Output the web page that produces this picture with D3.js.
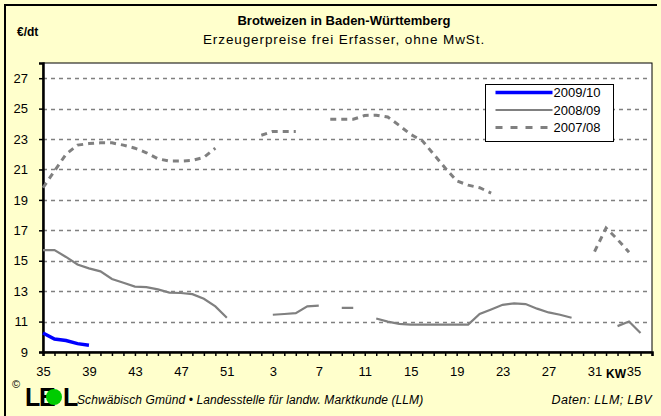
<!DOCTYPE html>
<html>
<head>
<meta charset="utf-8">
<script src="https://cdn.jsdelivr.net/npm/d3@7"></script>
<style>
  body { margin: 0; background: #FFFFCC; }
  svg { display: block; font-family: Arial, "Liberation Sans", sans-serif; }
</style>
</head>
<body>
<div class="chart"></div>
<script>
// calendar weeks (KW) on the x axis, season runs from week 35 to week 35
const weeks = [35, 36, 37, 38, 39, 40, 41, 42, 43, 44, 45, 46, 47, 48, 49, 50, 51, 52,
  1, 2, 3, 4, 5, 6, 7, 8, 9, 10, 11, 12, 13, 14, 15, 16, 17, 18, 19, 20, 21, 22, 23, 24,
  25, 26, 27, 28, 29, 30, 31, 32, 33, 34, 35, 36];
const yTicks = [9, 11, 13, 15, 17, 19, 21, 23, 25, 27];

// €/dt, one value per week, null = no quotation
const price0910 = [10.25, 9.85, 9.75, 9.55, 9.45];
const price0809 = [15.7, 15.7, 15.25, 14.75, 14.5, 14.3, 13.8, 13.55, 13.3, 13.27, 13.12, 12.9,
  12.88, 12.8, 12.5, 12.0, 11.25, null, null, null, 11.45, 11.5, 11.55, 12.0, 12.05, null,
  11.9, 11.9, null, 11.2, 11.0, 10.85, 10.8, 10.8, 10.8, 10.8, 10.8, 10.8, 11.5, 11.8, 12.1,
  12.2, 12.15, 11.85, 11.6, 11.45, 11.25, null, null, null, 10.7, 11.0, 10.25, null];
const price0708 = [19.8, 20.9, 22.0, 22.6, 22.7, 22.75, 22.75, 22.6, 22.4, 22.1, 21.7, 21.55,
  21.55, 21.6, 21.8, 22.4, null, null, null, 23.25, 23.5, 23.5, 23.5, null, null, 24.3, 24.3,
  24.3, 24.55, 24.57, 24.45, 23.9, 23.3, 22.9, 22.0, 21.1, 20.25, 19.97, 19.8, 19.45, null,
  null, null, null, null, null, null, null, 15.6, 17.15, 16.4, 15.55, null, null];

const seasons = ['2009/10', '2008/09', '2007/08'];

const width = 661, height = 416;
const plot = { left: 43, right: 652, top: 63, bottom: 352 };

const svg = d3.select('.chart').append('svg')
  .attr('width', width)
  .attr('height', height);

// yellow chart background with the black frame at top and left
svg.append('rect').attr('width', width).attr('height', height).attr('fill', '#FFFFCC');
svg.append('path')
  .attr('d', 'M5,416V5H657')
  .attr('fill', 'none').attr('stroke', '#000').attr('stroke-width', 2);

const x = d3.scaleLinear().domain([0, weeks.length - 1]).range([plot.left, plot.right]);
const y = d3.scaleLinear().domain([9, 28]).range([plot.bottom, plot.top]);

// plot area
svg.append('rect')
  .attr('x', plot.left).attr('y', plot.top)
  .attr('width', plot.right - plot.left).attr('height', plot.bottom - plot.top)
  .attr('fill', '#fff').attr('stroke', '#000').attr('stroke-width', 1);

// dashed grid
svg.append('g').selectAll('line')
  .data(yTicks.slice(1))
  .enter().append('line')
  .attr('x1', plot.left).attr('x2', plot.right)
  .attr('y1', d => Math.round(y(d)) + 0.5).attr('y2', d => Math.round(y(d)) + 0.5)
  .attr('stroke', '#808080').attr('stroke-width', 1.3)
  .attr('stroke-dasharray', '4,4');

// axes
const yAxis = svg.append('g')
  .attr('transform', `translate(${plot.left},0)`)
  .call(d3.axisLeft(y).tickValues(yTicks).tickSize(4).tickPadding(11).tickFormat(d3.format('d')));
const xAxis = svg.append('g')
  .attr('transform', `translate(0,${plot.bottom})`)
  .call(d3.axisBottom(x).tickValues(d3.range(weeks.length)).tickSize(4).tickPadding(11)
    .tickFormat(i => (i % 4 === 0 && i < weeks.length - 1) ? weeks[i] : ''));
[xAxis, yAxis].forEach(a => {
  a.select('.domain').attr('stroke-width', 2.5);
  a.selectAll('.tick line').attr('stroke-width', 1.5);
  a.selectAll('text').attr('font-size', 13).attr('fill', '#000');
});
xAxis.selectAll('.tick').filter(i => i === weeks.length - 2).select('text').attr('dx', -7);

// series
const line = d3.line()
  .defined(d => d != null)
  .x((d, i) => x(i))
  .y(d => y(d));

svg.append('path').datum(price0708)
  .attr('d', line).attr('fill', 'none')
  .attr('stroke', '#808080').attr('stroke-width', 3)
  .attr('stroke-dasharray', '6,5');
svg.append('path').datum(price0809)
  .attr('d', line).attr('fill', 'none')
  .attr('stroke', '#808080').attr('stroke-width', 2.2);
svg.append('path').datum(price0910)
  .attr('d', line).attr('fill', 'none')
  .attr('stroke', '#0000FF').attr('stroke-width', 3.5);

// legend
const legend = svg.append('g').attr('transform', 'translate(485.5,84.5)');
legend.append('rect').attr('width', 128).attr('height', 57)
  .attr('fill', '#fff').attr('stroke', '#000');
const legendStyle = [
  { color: '#0000FF', w: 3.5, dash: null },
  { color: '#808080', w: 2, dash: null },
  { color: '#808080', w: 3, dash: '7,8' }
];
seasons.forEach((s, k) => {
  const yy = 8 + k * 17.5;
  legend.append('line')
    .attr('x1', 10).attr('x2', 67).attr('y1', yy).attr('y2', yy)
    .attr('stroke', legendStyle[k].color).attr('stroke-width', legendStyle[k].w)
    .attr('stroke-dasharray', legendStyle[k].dash);
  legend.append('text').attr('x', 68).attr('y', yy + 4.5)
    .attr('font-size', 13).text(s);
});

// titles
svg.append('text').attr('x', 344).attr('y', 25).attr('text-anchor', 'middle')
  .attr('font-size', 13).attr('font-weight', 'bold').text('Brotweizen in Baden-Württemberg');
svg.append('text').attr('x', 344).attr('y', 44).attr('text-anchor', 'middle')
  .attr('font-size', 13.5).attr('letter-spacing', 0.9)
  .text('Erzeugerpreise frei Erfasser, ohne MwSt.');
svg.append('text').attr('x', 17).attr('y', 36)
  .attr('font-size', 12).attr('font-weight', 'bold').text('€/dt');
svg.append('text').attr('x', 606).attr('y', 378)
  .attr('font-size', 12).attr('font-weight', 'bold').text('KW');

// footer
svg.append('text').attr('x', 12).attr('y', 388).attr('font-size', 11).text('©');
const logo = svg.append('g').attr('transform', 'translate(25,406)')
  .attr('font-size', 25).attr('font-weight', 'bold');
logo.append('text').text('L');
logo.append('text').attr('x', 14).text('E');
logo.append('circle').attr('cx', 29).attr('cy', -9).attr('r', 8).attr('fill', '#00CC00');
logo.append('text').attr('x', 38).text('L');
svg.append('text').attr('x', 77).attr('y', 404).attr('font-size', 12)
  .attr('font-style', 'italic').attr('letter-spacing', 0.1)
  .text('Schwäbisch Gmünd • Landesstelle für landw. Marktkunde (LLM)');
svg.append('text').attr('x', 652).attr('y', 404).attr('font-size', 12.5)
  .attr('font-style', 'italic').attr('text-anchor', 'end').attr('letter-spacing', 0.35)
  .text('Daten: LLM; LBV');
</script>
</body>
</html>
